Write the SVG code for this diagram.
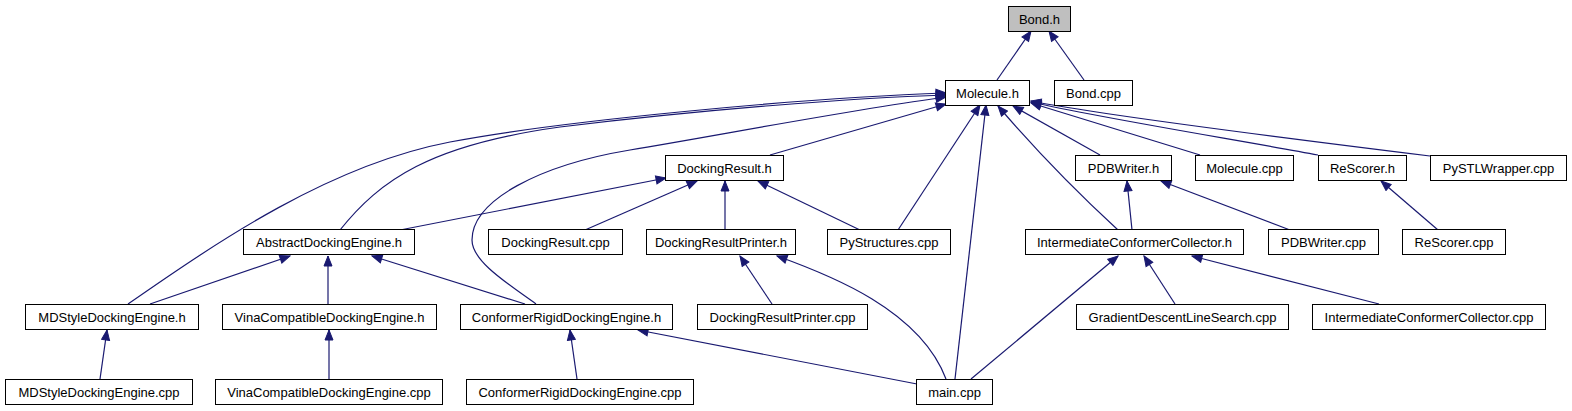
<svg xmlns="http://www.w3.org/2000/svg" width="1572" height="411" viewBox="0 0 1572 411">
<style>
.n rect{fill:#fff;stroke:#000;stroke-width:1}
.n text{font-family:"Liberation Sans",Arial,sans-serif;font-size:13px;text-anchor:middle;fill:#000}
#Bond_h rect{fill:#bfbfbf}
.e path{fill:none;stroke:#191970;stroke-width:1.2;marker-end:url(#arr)}
</style>
<defs>
<marker id="arr" markerUnits="userSpaceOnUse" markerWidth="12" markerHeight="10" viewBox="-1 -5 12 10" refX="10" refY="0" orient="auto">
<path d="M0,-4 L10,0 L0,4 Z" fill="#191970" stroke="#191970" stroke-width="1"/>
</marker>
</defs>
<rect width="1572" height="411" fill="#fff"/>
<g class="e" id="edges">
<path d="M997,80 L1031,31"/>
<path d="M1084,80 L1049,31"/>
<path d="M128,304 C220,240 330,165 450,142 C560,121 800,98 946,93"/>
<path d="M340,230 C380,180 430,145 560,127 C700,110 850,98 946,95"/>
<path d="M536,304 C510,285 472,262 472,240 C472,200 540,165 630,150 C720,135 850,110 946,97"/>
<path d="M770,155 L946,104"/>
<path d="M898,230 L980,105"/>
<path d="M955,379 L986,105"/>
<path d="M1118,230 C1080,195 1040,155 998,106"/>
<path d="M1100,155 L1013,106"/>
<path d="M1200,155 L1031,103"/>
<path d="M1318,155 C1250,142 1100,118 1031,102"/>
<path d="M1430,156 C1300,140 1100,115 1031,101"/>
<path d="M400,230 L666,178"/>
<path d="M585,230 L697,181"/>
<path d="M725,230 L725,181"/>
<path d="M860,230 L758,181"/>
<path d="M150,304 L290,256"/>
<path d="M328,304 L328,256"/>
<path d="M525,304 L372,256"/>
<path d="M100,379 L107,330"/>
<path d="M329,379 L329,330"/>
<path d="M577,379 L570,330"/>
<path d="M917,384 L638,330"/>
<path d="M772,304 L740,256"/>
<path d="M946,379 C920,310 830,275 777,256"/>
<path d="M971,379 L1118,256"/>
<path d="M1175,304 L1144,256"/>
<path d="M1379,304 L1192,256"/>
<path d="M1132,230 L1127,181"/>
<path d="M1290,230 L1161,181"/>
<path d="M1438,230 L1381,181"/>
</g>
<g class="n" id="Bond_h"><rect x="1008.5" y="6.5" width="62" height="25"/><text x="1039.5" y="23.5">Bond.h</text></g>
<g class="n" id="Molecule_h"><rect x="945.5" y="80.5" width="84" height="25"/><text x="987.5" y="97.5">Molecule.h</text></g>
<g class="n" id="Bond_cpp"><rect x="1054.5" y="80.5" width="78" height="25"/><text x="1093.5" y="97.5">Bond.cpp</text></g>
<g class="n" id="DockingResult_h"><rect x="665.5" y="155.5" width="118" height="25"/><text x="724.5" y="172.5">DockingResult.h</text></g>
<g class="n" id="PDBWriter_h"><rect x="1075.5" y="155.5" width="96" height="25"/><text x="1123.5" y="172.5">PDBWriter.h</text></g>
<g class="n" id="Molecule_cpp"><rect x="1195.5" y="155.5" width="98" height="25"/><text x="1244.5" y="172.5">Molecule.cpp</text></g>
<g class="n" id="ReScorer_h"><rect x="1318.5" y="155.5" width="88" height="25"/><text x="1362.5" y="172.5">ReScorer.h</text></g>
<g class="n" id="PySTLWrapper_cpp"><rect x="1430.5" y="155.5" width="136" height="25"/><text x="1498.5" y="172.5">PySTLWrapper.cpp</text></g>
<g class="n" id="AbstractDockingEngine_h"><rect x="243.5" y="229.5" width="171" height="25"/><text x="329" y="246.5">AbstractDockingEngine.h</text></g>
<g class="n" id="DockingResult_cpp"><rect x="488.5" y="229.5" width="134" height="25"/><text x="555.5" y="246.5">DockingResult.cpp</text></g>
<g class="n" id="DockingResultPrinter_h"><rect x="646.5" y="229.5" width="149" height="25"/><text x="721" y="246.5">DockingResultPrinter.h</text></g>
<g class="n" id="PyStructures_cpp"><rect x="827.5" y="229.5" width="123" height="25"/><text x="889" y="246.5">PyStructures.cpp</text></g>
<g class="n" id="IntermediateConformerCollector_h"><rect x="1025.5" y="229.5" width="218" height="25"/><text x="1134.5" y="246.5">IntermediateConformerCollector.h</text></g>
<g class="n" id="PDBWriter_cpp"><rect x="1268.5" y="229.5" width="110" height="25"/><text x="1323.5" y="246.5">PDBWriter.cpp</text></g>
<g class="n" id="ReScorer_cpp"><rect x="1402.5" y="229.5" width="103" height="25"/><text x="1454" y="246.5">ReScorer.cpp</text></g>
<g class="n" id="MDStyleDockingEngine_h"><rect x="25.5" y="304.5" width="173" height="25"/><text x="112" y="321.5">MDStyleDockingEngine.h</text></g>
<g class="n" id="VinaCompatibleDockingEngine_h"><rect x="222.5" y="304.5" width="214" height="25"/><text x="329.5" y="321.5">VinaCompatibleDockingEngine.h</text></g>
<g class="n" id="ConformerRigidDockingEngine_h"><rect x="460.5" y="304.5" width="212" height="25"/><text x="566.5" y="321.5">ConformerRigidDockingEngine.h</text></g>
<g class="n" id="DockingResultPrinter_cpp"><rect x="697.5" y="304.5" width="170" height="25"/><text x="782.5" y="321.5">DockingResultPrinter.cpp</text></g>
<g class="n" id="GradientDescentLineSearch_cpp"><rect x="1076.5" y="304.5" width="212" height="25"/><text x="1182.5" y="321.5">GradientDescentLineSearch.cpp</text></g>
<g class="n" id="IntermediateConformerCollector_cpp"><rect x="1312.5" y="304.5" width="233" height="25"/><text x="1429" y="321.5">IntermediateConformerCollector.cpp</text></g>
<g class="n" id="MDStyleDockingEngine_cpp"><rect x="5.5" y="379.5" width="187" height="25"/><text x="99" y="396.5">MDStyleDockingEngine.cpp</text></g>
<g class="n" id="VinaCompatibleDockingEngine_cpp"><rect x="215.5" y="379.5" width="227" height="25"/><text x="329" y="396.5">VinaCompatibleDockingEngine.cpp</text></g>
<g class="n" id="ConformerRigidDockingEngine_cpp"><rect x="466.5" y="379.5" width="227" height="25"/><text x="580" y="396.5">ConformerRigidDockingEngine.cpp</text></g>
<g class="n" id="main_cpp"><rect x="916.5" y="379.5" width="76" height="25"/><text x="954.5" y="396.5">main.cpp</text></g>
</svg>
